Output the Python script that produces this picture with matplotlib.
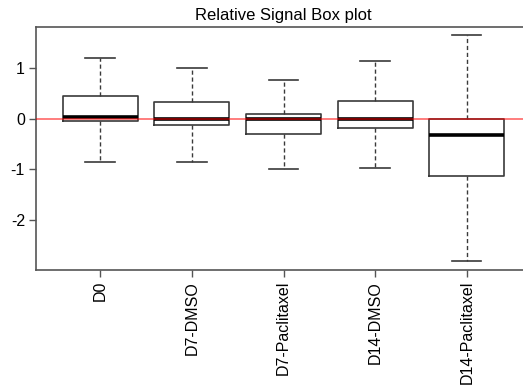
import matplotlib
matplotlib.use("Agg")
import matplotlib.pyplot as plt

categories = ["D0", "D7-DMSO", "D7-Paclitaxel", "D14-DMSO", "D14-Paclitaxel"]
whisker_low = [-0.85, -0.85, -1.00, -0.97, -2.81]
q1 = [-0.05, -0.13, -0.31, -0.19, -1.13]
medians = [0.03, -0.01, 0.00, -0.01, -0.32]
q3 = [0.44, 0.32, 0.09, 0.35, -0.01]
whisker_high = [1.20, 1.01, 0.77, 1.13, 1.65]
yticks = [-2, -1, 0, 1]

plt.rcParams['font.family'] = ['Liberation Sans', 'DejaVu Sans']

fig = plt.figure(figsize=(5.23, 3.91), dpi=100)
ax = fig.add_axes([36/523, 1 - 270/391, (531-36)/523, (270-27)/391])

stats = []
for i, c in enumerate(categories):
    stats.append(dict(label=c, whislo=whisker_low[i], q1=q1[i], med=medians[i],
                      q3=q3[i], whishi=whisker_high[i], fliers=[]))

edge = '#3a3a3a'
ax.bxp(stats, positions=range(1, len(categories) + 1), widths=0.82,
       capwidths=0.32, showfliers=False,
       boxprops=dict(color=edge, linewidth=1.2),
       whiskerprops=dict(color=edge, linewidth=1.0, linestyle=(0, (3, 2))),
       capprops=dict(color=edge, linewidth=1.2),
       medianprops=dict(color='black', linewidth=2.6))

ax.axhline(0, color='red', alpha=0.55, linewidth=1.3, zorder=5)

ax.set_xlim(0.3, 5.7)
ax.set_ylim(-2.99, 1.81)
ax.set_yticks(yticks)
ax.set_yticklabels([str(t) for t in yticks])
ax.set_xticks(range(1, len(categories) + 1))
ax.set_xticklabels(categories, rotation=90)
ax.tick_params(axis='both', labelsize=11.5, length=5, width=1.0, color='#555555', pad=3)
for s in ax.spines.values():
    s.set_color('#555555')
    s.set_linewidth(1.2)

ax.set_title("Relative Signal Box plot", fontsize=12, pad=5)

fig.savefig("out.png", dpi=100)
